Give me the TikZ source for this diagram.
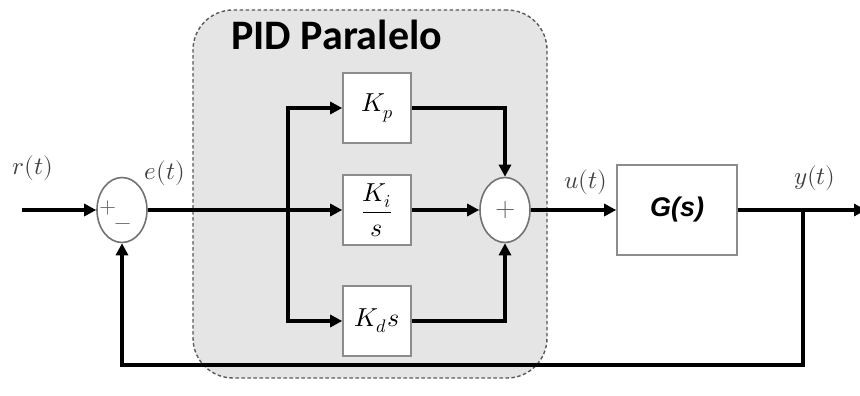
\documentclass[tikz,border=0pt]{standalone}
\usepackage{fontspec}
\usepackage{unicode-math}
\newfontfamily\pidfont{Carlito}
\newfontfamily\gfont{Liberation Sans}
\usetikzlibrary{arrows.meta,shapes.geometric}
\begin{document}
\begin{tikzpicture}[x=1pt,y=-1pt,
  sig/.style={line width=3.2pt, draw=black},
  arr/.style={sig, -{Triangle[length=12pt,width=12pt]}},
  blk/.style={draw=black!45, line width=1.6pt, fill=white, minimum width=68pt, minimum height=70pt, inner sep=0pt, font=\fontsize{26}{28}\selectfont},
  sumj/.style={ellipse, draw=black!55, line width=1.6pt, fill=white, minimum width=50pt, minimum height=65pt, inner sep=0pt},
  lbl/.style={text=black!75, font=\fontsize{25}{27}\selectfont},
  sgn/.style={text=black!60, inner sep=0pt, font=\fontsize{22}{24}\selectfont}]
\useasboundingbox (0,0) rectangle (860,396);
\node[draw=black!65, fill=black!10, dash pattern=on 3.5pt off 2.5pt, line width=1.4pt, rounded corners=40pt, minimum width=354pt, minimum height=368pt, inner sep=0pt] (pid) at (370,194) {};
\node[font=\pidfont\bfseries\fontsize{42}{44}\selectfont, anchor=base west, inner sep=0pt] (title) at (231,50) {PID Paralelo};
% summing junctions
\node[sumj] (s1) at (122,210) {};
\node[sgn] (s1p) at (108,208) {$+$};
\node[sgn] (s1m) at (123,227) {$-$};
\node[sumj] (s2) at (505,210) {};
\node[sgn, font=\fontsize{26}{28}\selectfont] (s2p) at (506,210) {$+$};
% blocks
\node[blk] (kp) at (377,108) {$K_p$};
\node[blk] (ki) at (377,210) {$\dfrac{K_i}{s}$};
\node[blk] (kd) at (377,321) {$K_d s$};
\node[blk, minimum width=120pt, minimum height=90pt, font=\gfont\bfseries\itshape\fontsize{27}{29}\selectfont] (g) at (677,210) {G(s)};
% coordinates
\coordinate (in) at (22,210);
\coordinate (br) at (288,210);
\coordinate (yb) at (803,210);
\coordinate (out) at (866,210);
\coordinate (fb) at (803,365);
% connectors
\draw[arr] (in) -- (s1);
\draw[sig] (s1) -- (br);
\draw[arr] (br) -- (ki);
\draw[arr] (br) |- (kp);
\draw[arr] (br) |- (kd);
\draw[arr] (kp) -| (s2);
\draw[arr] (ki) -- (s2);
\draw[arr] (kd) -| (s2);
\draw[arr] (s2) -- (g);
\draw[arr] (g) -- (out);
\draw[arr] (yb) -- (fb) -| (s1);
% labels
\node[lbl] (rl) at (33,168) {$r(t)$};
\node[lbl] (el) at (165,173) {$e(t)$};
\node[lbl] (ul) at (586,182) {$u(t)$};
\node[lbl] (yl) at (815,178) {$y(t)$};
\end{tikzpicture}
\end{document}
